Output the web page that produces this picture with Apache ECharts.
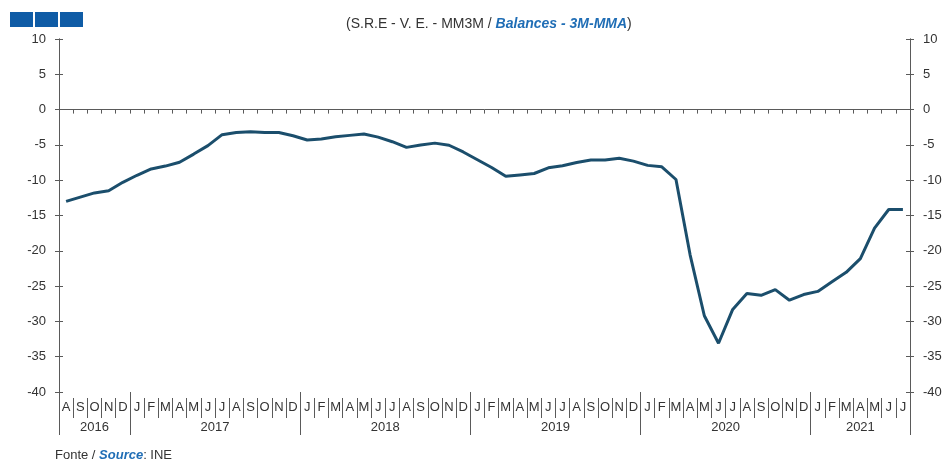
<!DOCTYPE html>
<html>
<head>
<meta charset="utf-8">
<script src="https://cdn.jsdelivr.net/npm/echarts@6/dist/echarts.min.js"></script>
<style>
html,body{margin:0;padding:0;background:#fff;}
#chart{width:946px;height:459px;}
</style>
</head>
<body>
<div id="chart"></div>
<script>
// Month letters, Aug 2016 .. Jul 2021
const monthLabels = [
  'A','S','O','N','D',
  'J','F','M','A','M','J','J','A','S','O','N','D',
  'J','F','M','A','M','J','J','A','S','O','N','D',
  'J','F','M','A','M','J','J','A','S','O','N','D',
  'J','F','M','A','M','J','J','A','S','O','N','D',
  'J','F','M','A','M','J','J'
];
const years = ['2016','2017','2018','2019','2020','2021'];
const monthsPerYear = [5, 12, 12, 12, 12, 7];

// Balances - 3M-MMA
const balances = [
  -13.0, -12.4, -11.8, -11.5, -10.3,
  -9.3, -8.4, -8.0, -7.45, -6.3, -5.1, -3.55, -3.25, -3.15, -3.25, -3.25, -3.7,
  -4.3, -4.15, -3.85, -3.65, -3.45, -3.9, -4.55, -5.35, -5.0, -4.75, -5.05, -6.0,
  -7.1, -8.2, -9.45, -9.25, -9.05, -8.25, -7.95, -7.5, -7.15, -7.15, -6.9, -7.3,
  -7.9, -8.1, -9.9, -20.6, -29.2, -33.1, -28.3, -26.05, -26.3, -25.5, -27.0, -26.2,
  -25.75, -24.4, -23.05, -21.1, -16.8, -14.15, -14.15
];

const yTicks = { min: -40, max: 10, interval: 5 };

// half-month grid for the year band
const halfCount = monthLabels.length * 2 + 1;
const yearBoundaries = [0];
monthsPerYear.forEach(function (m, i) { yearBoundaries.push(yearBoundaries[i] + m * 2); });
const yearAxisData = new Array(halfCount).fill('');
years.forEach(function (y, i) {
  yearAxisData[(yearBoundaries[i] + yearBoundaries[i + 1]) / 2] = y;
});
const boundarySet = new Set(yearBoundaries);

const FONT = 'Liberation Sans, Arial, sans-serif';
const TXT = '#333333';
const AX = '#5a5a5a';

const chart = echarts.init(document.getElementById('chart'), null, { renderer: 'canvas' });

function yAx(pos, labels, inside) {
  return {
    type: 'value', position: pos, min: yTicks.min, max: yTicks.max, interval: yTicks.interval,
    splitLine: { show: false },
    axisLine: { show: true, lineStyle: { color: AX, width: 1 } },
    axisTick: { show: true, inside: inside, length: 4, lineStyle: { color: AX } },
    axisLabel: { show: labels, margin: 13, color: TXT, fontSize: 13, fontFamily: FONT }
  };
}

chart.setOption({
  animation: false,
  backgroundColor: '#fff',
  title: [{
    left: 341, top: 12,
    text: '{a|(S.R.E - V. E. - MM3M / }{b|Balances - 3M-MMA}{a|)}',
    textStyle: { rich: {
      a: { fontSize: 14, color: TXT, fontWeight: 'normal', fontFamily: FONT },
      b: { fontSize: 14, color: '#1f6db5', fontWeight: 'bold', fontStyle: 'italic', fontFamily: FONT }
    } }
  }, {
    left: 50, top: 444,
    text: '{a|Fonte / }{b|Source}{a|: INE}',
    textStyle: { rich: {
      a: { fontSize: 13, color: TXT, fontWeight: 'normal', fontFamily: FONT },
      b: { fontSize: 13, color: '#1f6db5', fontWeight: 'bold', fontStyle: 'italic', fontFamily: FONT }
    } }
  }],
  graphic: [
    { type: 'rect', shape: { x: 10, y: 12, width: 23, height: 15 }, style: { fill: '#0f5ca6' } },
    { type: 'rect', shape: { x: 35, y: 12, width: 23, height: 15 }, style: { fill: '#0f5ca6' } },
    { type: 'rect', shape: { x: 60, y: 12, width: 23, height: 15 }, style: { fill: '#0f5ca6' } }
  ],
  grid: { left: 59, right: 36, top: 39, bottom: 67, containLabel: false },
  xAxis: [{
    type: 'category', data: monthLabels, position: 'bottom', boundaryGap: true,
    axisLine: { show: true, onZero: true, onZeroAxisIndex: 0, lineStyle: { color: AX, width: 1 } },
    axisTick: { show: true, interval: 0, length: 4, lineStyle: { color: AX } },
    axisLabel: { show: false },
    splitLine: { show: false }
  }, {
    type: 'category', data: monthLabels, position: 'bottom', offset: 6, boundaryGap: true,
    axisLine: { show: false, onZero: false },
    axisTick: { show: true, interval: 0, length: 20, lineStyle: { color: AX } },
    axisLabel: { show: true, interval: 0, margin: 3, color: TXT, fontSize: 13, fontFamily: FONT },
    splitLine: { show: false }
  }, {
    type: 'category', data: yearAxisData, position: 'bottom', boundaryGap: false,
    axisLine: { show: false, onZero: false },
    axisTick: { show: true, length: 43, interval: function (idx) { return boundarySet.has(idx); }, lineStyle: { color: AX } },
    axisLabel: { show: true, margin: 29, color: TXT, fontSize: 13, fontFamily: FONT,
      interval: function (idx, val) { return val !== ''; } },
    splitLine: { show: false }
  }],
  yAxis: [yAx('left', true, false), yAx('left', false, true), yAx('right', true, false), yAx('right', false, true)],
  series: [{
    type: 'line', xAxisIndex: 0, yAxisIndex: 0, data: balances,
    symbol: 'none', smooth: false,
    lineStyle: { color: '#1b4e6c', width: 3 }
  }]
});
</script>
</body>
</html>
